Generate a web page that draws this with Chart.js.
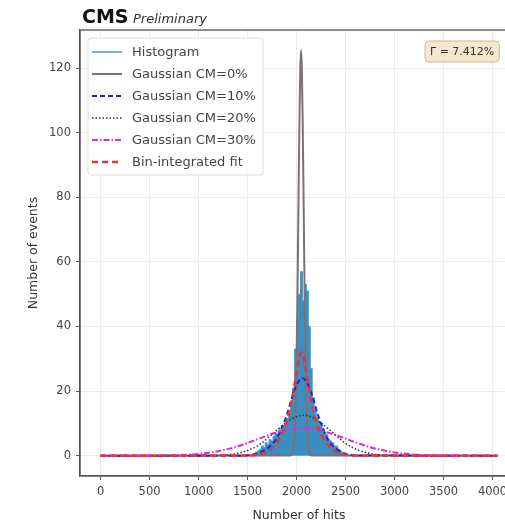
<!DOCTYPE html>
<html>
<head>
<meta charset="utf-8">
<script src="https://cdn.jsdelivr.net/npm/chart.js@4.4.1/dist/chart.umd.min.js"></script>
<style>
  html, body { margin: 0; padding: 0; background: #fff; overflow: hidden; }
  #wrap { width: 530px; height: 525px; }
</style>
</head>
<body>
<div id="wrap"><canvas id="chart" width="530" height="525"></canvas></div>
<script>
// ─── Histograma (centros dos bins, largura 20) ──────────────
const HIST_X = [1550, 1570, 1590, 1610, 1630, 1650, 1670, 1690, 1710, 1730, 1750, 1770, 1790, 1810, 1830, 1850, 1870, 1890, 1910, 1930,
                1950, 1970, 1990, 2010, 2030, 2050, 2070, 2090, 2110, 2130, 2150, 2170, 2190, 2210, 2230, 2250, 2270, 2290, 2310, 2330,
                2350, 2370, 2390, 2410, 2430, 2450, 2470, 2490, 2510, 2530, 2550];
const HIST_Y = [0, 0.5, 1, 1.5, 2, 3, 2.5, 4, 3.5, 5, 4.5, 6, 7, 6.5, 8, 7.5, 9, 10, 11.5, 13,
                16, 21, 33, 42, 50, 57, 48, 53, 51, 40, 27, 18, 14, 12, 10.5, 9, 8.5, 7, 6.5, 5,
                4.5, 4, 3, 3, 2, 1.5, 1, 0.8, 0.5, 0.2, 0];

// ─── Curvas ajustadas ───────────────────────────────────────
const CM0_X = [0, 1940, 1960, 1975, 1990, 2000, 2010, 2020, 2030, 2038, 2046, 2054, 2062, 2072, 2082, 2092, 2102, 2117, 2132, 2150, 4050];
const CM0_Y = [0, 0.06, 0.8, 3.9, 14.7, 29.5, 51.4, 79.2, 105, 119.6, 125.5, 119.6, 105, 79.2, 51.4, 29.5, 14.7, 3.9, 0.8, 0.07, 0];

const CM10_X = [0, 1400, 1500, 1600, 1700, 1800, 1900, 1950, 2000, 2060, 2120, 2170, 2220, 2320, 2420, 2520, 2620, 4050];
const CM10_Y = [0, 0, 0.1, 0.8, 2.2, 5.5, 12.5, 17.6, 21.9, 24, 21.9, 17.6, 12.5, 5.0, 1.8, 0.4, 0.05, 0];

const CM20_X = [0, 900, 1000, 1200, 1400, 1600, 1800, 1900, 2000, 2070, 2140, 2240, 2340, 2540, 2740, 2940, 3100, 4050];
const CM20_Y = [0, 0, 0.01, 0.1, 0.72, 3.0, 7.9, 10.4, 12.1, 12.5, 12.1, 10.4, 7.9, 3.0, 0.72, 0.1, 0.01, 0];

const CM30_X = [0, 800, 1000, 1200, 1400, 1600, 1800, 2000, 2060, 2200, 2400, 2600, 2800, 3000, 3200, 3400, 4050];
const CM30_Y = [0, 0.17, 0.53, 1.37, 2.9, 5.05, 7.2, 8.43, 8.5, 8.1, 6.37, 4.15, 2.2, 1.0, 0.35, 0.1, 0];

const FIT_X = [0, 1500, 1600, 1700, 1800, 1850, 1900, 1950, 2000, 2025, 2050, 2075, 2100, 2150, 2200, 2250, 2300, 2400, 2500, 2600, 4050];
const FIT_Y = [0, 0.05, 0.3, 1.2, 4.0, 6.5, 10.5, 17, 25.5, 30, 32, 30, 25.5, 17, 10.5, 6.5, 4.0, 1.2, 0.3, 0.05, 0];

// ─── Eixos ──────────────────────────────────────────────────
const X_TICKS = [0, 500, 1000, 1500, 2000, 2500, 3000, 3500, 4000];
const Y_TICKS = [0, 20, 40, 60, 80, 100, 120];
const GAMMA_TEXT = 'Γ = 7.412%';

const FONT = "'DejaVu Sans', sans-serif";

function pts(xs, ys) {
  return xs.map((x, i) => ({ x, y: ys[i] }));
}

function curve(label, xs, ys, color, width, dash, order) {
  return {
    label,
    data: pts(xs, ys),
    borderColor: color,
    borderWidth: width,
    borderDash: dash,
    pointRadius: 0,
    fill: false,
    cubicInterpolationMode: 'monotone',
    order,
  };
}

// ─── Título, moldura, anotação e legenda ────────────────────
const decor = {
  id: 'decor',
  afterDatasetsDraw(chart) {
    const { ctx, chartArea: a } = chart;
    ctx.save();

    // moldura superior/direita
    ctx.strokeStyle = '#555';
    ctx.lineWidth = 1.3;
    ctx.strokeRect(a.left, a.top, a.right - a.left, a.bottom - a.top);

    // título
    ctx.fillStyle = '#111';
    ctx.textBaseline = 'alphabetic';
    ctx.font = `bold 19px ${FONT}`;
    ctx.fillText('CMS', 82, 23);
    ctx.font = `italic 13px ${FONT}`;
    ctx.fillStyle = '#333';
    ctx.fillText('Preliminary', 133, 23);

    // caixa Γ
    ctx.font = `11px ${FONT}`;
    const tw = ctx.measureText(GAMMA_TEXT).width;
    ctx.beginPath();
    ctx.roundRect(425, 41, tw + 10, 21, 4);
    ctx.fillStyle = 'rgba(245,230,200,0.9)';
    ctx.fill();
    ctx.strokeStyle = '#cdb890';
    ctx.lineWidth = 1;
    ctx.stroke();
    ctx.fillStyle = '#333';
    ctx.textBaseline = 'middle';
    ctx.fillText(GAMMA_TEXT, 430, 52);

    // legenda
    ctx.beginPath();
    ctx.roundRect(88, 38, 175, 137, 3);
    ctx.fillStyle = 'rgba(255,255,255,0.85)';
    ctx.fill();
    ctx.strokeStyle = '#dddddd';
    ctx.stroke();

    ctx.font = `13px ${FONT}`;
    chart.data.datasets.forEach((ds, i) => {
      const y = 52 + i * 22;
      ctx.beginPath();
      ctx.setLineDash(ds.borderDash || []);
      ctx.strokeStyle = ds.legendColor || ds.borderColor;
      ctx.lineWidth = ds.legendWidth || ds.borderWidth;
      ctx.moveTo(92, y);
      ctx.lineTo(122, y);
      ctx.stroke();
      ctx.setLineDash([]);
      ctx.fillStyle = '#444';
      ctx.fillText(ds.label, 132, y + 1);
    });

    ctx.restore();
  }
};

new Chart(document.getElementById('chart'), {
  type: 'line',
  data: {
    datasets: [
      {
        label: 'Histogram',
        data: pts(HIST_X, HIST_Y),
        stepped: 'middle',
        fill: 'origin',
        backgroundColor: '#3b8ec0',
        borderColor: '#4a9bc9',
        legendColor: '#6cb4d8',
        borderWidth: 1,
        legendWidth: 2,
        pointRadius: 0,
        order: 6,
      },
      curve('Gaussian CM=0%', CM0_X, CM0_Y, '#7d7272', 2, [], 5),
      curve('Gaussian CM=10%', CM10_X, CM10_Y, '#2222d8', 2, [5, 3], 4),
      curve('Gaussian CM=20%', CM20_X, CM20_Y, '#333333', 1.5, [1.5, 2], 3),
      curve('Gaussian CM=30%', CM30_X, CM30_Y, '#e026e0', 2, [6, 2, 1.5, 2], 2),
      curve('Bin-integrated fit', FIT_X, FIT_Y, '#e83434', 2.5, [6, 4], 1),
    ]
  },
  options: {
    responsive: false,
    animation: false,
    devicePixelRatio: 1,
    layout: { padding: { left: 0, top: 30, right: 12, bottom: 0 } },
    plugins: { legend: { display: false }, tooltip: { enabled: false } },
    scales: {
      x: {
        type: 'linear',
        min: -210,
        max: 4260,
        afterBuildTicks: (s) => { s.ticks = X_TICKS.map(v => ({ value: v })); },
        afterFit: (s) => { s.height = 49; },
        grid: { color: '#ececec', tickColor: '#555', tickLength: 4 },
        border: { color: '#555', width: 1.3 },
        ticks: { color: '#444', font: { family: FONT, size: 11.5 }, padding: 5, maxRotation: 0, callback: (v) => String(v) },
        title: { display: true, text: 'Number of hits', color: '#333', font: { family: FONT, size: 12.5 }, padding: { top: 0, bottom: 2 } },
      },
      y: {
        min: -6.3,
        max: 131.8,
        afterBuildTicks: (s) => { s.ticks = Y_TICKS.map(v => ({ value: v })); },
        afterFit: (s) => { s.width = 80; },
        grid: { color: '#ececec', tickColor: '#555', tickLength: 4 },
        border: { color: '#555', width: 1.3 },
        ticks: { color: '#444', font: { family: FONT, size: 11.5 }, padding: 5, callback: (v) => String(v) },
        title: { display: true, text: 'Number of events', color: '#333', font: { family: FONT, size: 12.5 }, padding: { top: 26, bottom: 0 } },
      }
    }
  },
  plugins: [decor]
});
</script>
</body>
</html>
